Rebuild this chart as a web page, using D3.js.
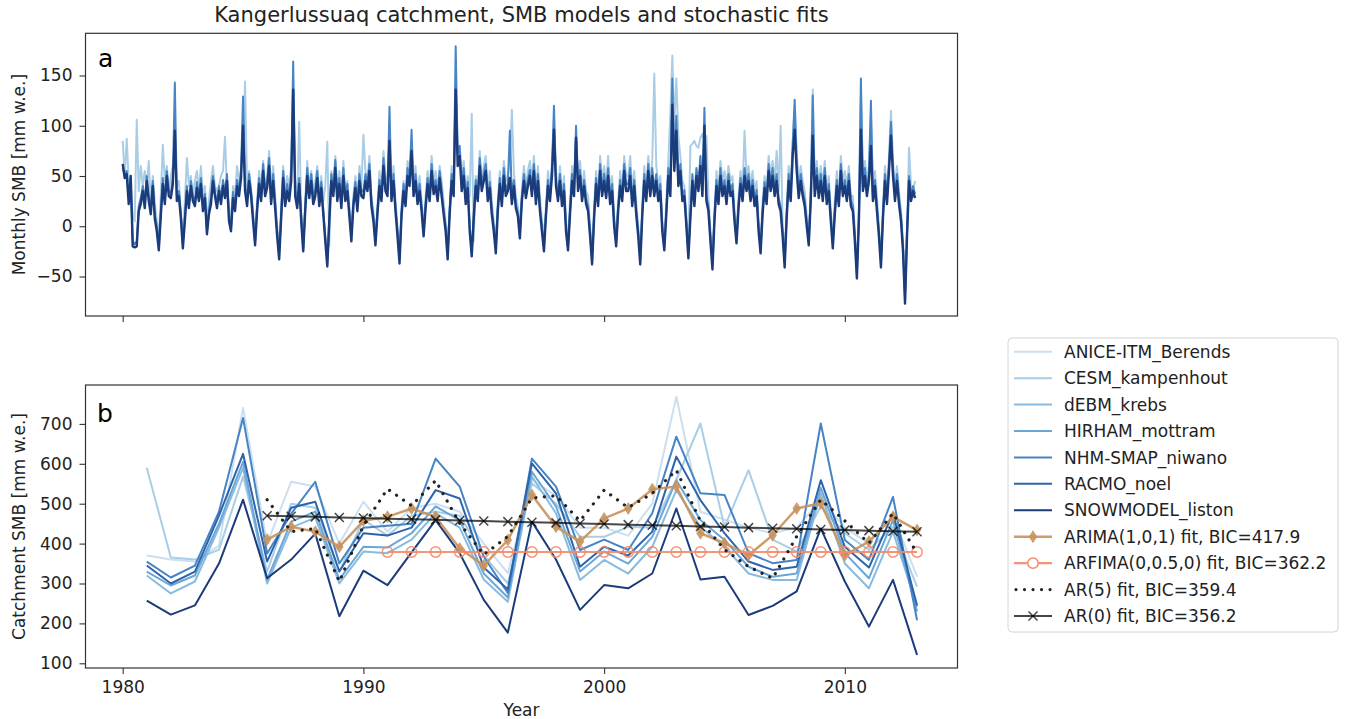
<!DOCTYPE html>
<html><head><meta charset="utf-8">
<script src="https://cdn.jsdelivr.net/npm/d3@7"></script>
<style>
body{margin:0;background:#fff;}
svg text{font-family:"DejaVu Sans",sans-serif;}
</style>
</head><body>
<svg id="c" width="1346" height="719"></svg>
<script>
// ---------------- DATA ----------------
const models = ["ANICE-ITM_Berends","CESM_kampenhout","dEBM_krebs","HIRHAM_mottram","NHM-SMAP_niwano","RACMO_noel","SNOWMODEL_liston"];
const modelColors = ["#cbdff1","#aacde6","#88bbdf","#6aa6d6","#4684c4","#2d63aa","#1b3b7b"];

const annualYears = [1981,1982,1983,1984,1985,1986,1987,1988,1989,1990,1991,1992,1993,1994,1995,1996,1997,1998,1999,2000,2001,2002,2003,2004,2005,2006,2007,2008,2009,2010,2011,2012,2013];
const aniceAnnual  = [370,360,355,395,740,400,555,543,400,505,430,489,500,480,400,326,560,520,440,440,420,500,768,480,460,440,426,440,509,440,400,470,317];
const cesmAnnual   = [590,365,360,385,568,330,500,490,330,460,420,470,480,470,370,300,551,500,417,417,442,440,560,701,442,584,410,380,493,426,384,442,292];
const debmAnnual   = [320,275,305,440,590,300,440,465,300,380,376,410,476,440,310,254,568,476,309,359,325,392,534,442,392,325,309,309,526,350,288,430,242];
const hirhamAnnual = [330,295,320,450,605,310,455,480,310,392,390,426,493,459,325,265,580,493,330,380,350,417,559,459,409,342,317,325,540,376,313,459,230];
const nhmAnnual    = [355,315,345,480,715,375,475,555,350,440,445,450,613,543,367,276,613,543,384,410,384,476,668,526,522,376,351,359,701,409,359,517,208];
const racmoAnnual  = [345,300,330,470,625,355,490,505,330,426,420,440,534,513,340,285,601,526,342,392,370,430,618,509,426,355,334,342,559,392,340,476,245];
const snowAnnual   = [257,222,245,350,510,313,360,425,218,332,296,378,459,376,259,177,455,360,234,296,288,325,488,310,317,221,244,280,438,305,192,309,121];
const annualSeries = [aniceAnnual,cesmAnnual,debmAnnual,hirhamAnnual,nhmAnnual,racmoAnnual,snowAnnual];

const fitYears = [1986,1987,1988,1989,1990,1991,1992,1993,1994,1995,1996,1997,1998,1999,2000,2001,2002,2003,2004,2005,2006,2007,2008,2009,2010,2011,2012,2013];
const arimaFit = [410,442,430,392,457,467,488,467,388,345,409,522,442,405,463,488,536,543,426,401,371,421,488,501,371,405,467,434];
const ar5Fit   = [510,430,438,305,445,537,495,558,451,372,418,514,520,457,534,490,526,584,457,385,342,313,418,510,457,401,476,376];
const ar0Fit   = [470,468.5,467,465.5,464,462.5,461,459.5,458,456.5,455,453.5,452,450.5,449,447.5,446,444.5,443,441.5,440,438.5,437,435.5,434,432.5,431,429.5];
const arfimaYears = [1991,1992,1993,1994,1995,1996,1997,1998,1999,2000,2001,2002,2003,2004,2005,2006,2007,2008,2009,2010,2011,2012,2013];
const arfimaFit   = [379,379,379,379,379,379,379,379,379,379,379,379,379,379,379,379,379,379,379,379,379,379,379];

const fitLabels = ["ARIMA(1,0,1) fit, BIC=417.9","ARFIMA(0,0.5,0) fit, BIC=362.2","AR(5) fit, BIC=359.4","AR(0) fit, BIC=356.2"];

// Monthly SMB (Jan..Dec per year, 1980-2012)
const monthlyStart = 1980;
const monthlyCesm = [
[85,50,87,45,30,12,5,106,35,60,40,55],
[40,65,20,50,25,5,-10,30,81,45,60,35],
[50,60,70,40,45,15,-10,25,68,40,50,30],
[45,55,35,60,30,40,5,25,45,60,40,35],
[40,50,55,89,35,20,5,40,30,60,45,58],
[70,144,40,55,35,15,-10,25,55,35,65,40],
[50,75,35,60,30,0,-20,20,60,35,50,40],
[60,90,45,30,104,15,-15,25,65,40,55,35],
[45,60,30,50,25,40,84,-20,55,40,70,35],
[55,30,65,35,45,20,-5,30,50,25,60,40],
[91,55,45,70,30,15,-10,20,55,35,75,50],
[45,95,35,60,25,0,-25,20,45,30,65,55],
[85,40,60,30,50,25,0,30,55,35,70,45],
[55,35,60,45,25,5,-20,20,60,40,140,75],
[75,50,65,35,50,30,112,-15,50,35,75,45],
[60,70,35,55,25,5,-15,25,55,30,65,45],
[50,65,116,55,30,20,0,35,60,40,55,65],
[45,70,35,60,30,5,-10,20,55,35,65,100],
[55,35,60,30,50,5,-15,25,60,40,90,50],
[65,35,55,35,30,0,-25,20,55,30,70,45],
[60,40,70,35,50,10,-10,25,55,35,70,50],
[50,70,35,55,25,0,-25,20,60,35,70,45],
[65,152,60,40,50,5,-15,25,65,110,170,100],
[147,90,70,45,40,10,-20,80,82,85,80,78],
[88,92,85,90,30,-5,-30,15,55,35,65,45],
[55,40,60,45,50,15,-5,30,55,35,95,50],
[60,40,55,35,45,5,-15,25,50,35,70,50],
[65,45,75,35,100,0,-30,20,60,40,85,120],
[75,45,60,45,35,10,-10,35,136,45,65,40],
[60,40,65,35,50,15,-10,25,55,30,70,45],
[55,40,60,30,30,-5,-40,15,130,50,65,45],
[60,110,40,55,30,0,-30,20,60,35,70,115],
[65,40,60,35,15,-15,-60,0,78,40,35,45]];
const monthlyNhm = [
[58,52,55,28,48,-15,-18,-15,20,28,40,25],
[50,30,18,45,12,0,-20,15,48,28,55,35],
[33,48,143,30,35,12,-18,10,40,22,45,30],
[25,44,30,48,20,32,-5,16,28,50,35,22],
[40,28,46,34,52,10,-2,34,20,46,36,55],
[129,42,26,52,36,10,-15,20,48,30,62,36],
[44,68,28,52,24,-5,-28,12,55,26,42,30],
[52,164,36,24,48,10,-22,20,58,34,52,28],
[36,55,26,44,16,-10,-35,10,52,36,66,30],
[48,24,58,30,42,15,-10,25,44,20,52,36],
[34,52,42,62,26,10,-15,16,46,30,68,42],
[36,119,30,52,20,-5,-32,14,42,26,58,46],
[96,36,52,28,42,20,-5,22,48,30,62,38],
[46,30,55,36,16,0,-28,16,52,36,179,72],
[80,42,58,28,44,0,-26,12,46,30,68,42],
[52,62,30,44,16,0,-22,20,48,25,58,36],
[42,95,28,46,22,14,-8,30,52,34,46,56],
[36,62,28,52,20,0,-20,14,46,30,58,120],
[46,30,52,26,42,0,-20,16,52,36,100,42],
[56,30,46,28,20,-5,-33,12,48,26,62,36],
[52,34,58,28,42,5,-15,20,46,30,62,42],
[42,58,26,46,16,-5,-33,14,52,30,62,36],
[58,36,52,30,42,0,-20,16,58,36,147,62],
[110,46,62,30,36,5,-28,12,52,26,58,42],
[70,36,118,30,20,-10,-38,10,46,28,58,36],
[46,28,52,36,42,10,-12,22,48,30,58,42],
[52,30,46,26,36,0,-22,16,44,28,62,42],
[58,36,52,28,20,-5,-36,12,52,30,80,126],
[62,34,52,36,26,5,-15,30,130,36,58,34],
[52,30,58,28,42,10,-18,16,46,26,62,36],
[46,30,52,26,20,-10,-47,10,147,42,58,36],
[52,125,30,46,20,-5,-36,12,52,28,62,104],
[58,30,52,28,10,-20,-72,-5,50,30,40,32]];
const monthlySnow = [
[62,48,52,22,50,-20,-21,-20,15,22,35,18],
[45,25,12,40,8,-5,-24,10,42,22,50,30],
[28,42,95,25,30,8,-22,5,35,18,40,25],
[20,38,25,42,15,28,-8,12,22,45,30,18],
[35,22,40,28,45,5,-5,28,15,40,30,48],
[100,35,20,45,30,5,-19,15,42,25,55,30],
[38,60,22,45,18,-10,-33,8,48,20,35,25],
[45,136,30,18,42,5,-25,15,50,28,45,22],
[30,48,20,38,12,-15,-40,5,45,30,58,25],
[42,18,50,25,35,10,-15,20,38,15,45,30],
[28,45,35,55,20,5,-19,12,40,25,60,35],
[30,85,25,45,15,-10,-37,10,35,20,50,40],
[75,30,45,22,35,15,-10,18,42,25,55,32],
[40,25,48,30,12,-5,-33,12,45,30,136,60],
[70,35,50,22,38,-5,-30,8,40,25,60,35],
[45,55,25,38,12,-5,-27,15,42,20,50,30],
[35,48,22,40,18,10,-12,25,45,28,40,50],
[30,55,22,45,15,-5,-25,10,40,25,50,96],
[40,25,45,20,35,-5,-24,12,45,30,88,35],
[50,25,40,22,15,-10,-38,8,42,20,55,30],
[45,28,50,22,35,0,-20,15,40,25,55,35],
[35,50,20,40,12,-10,-38,10,45,25,55,30],
[50,30,45,25,35,-5,-24,12,50,30,121,55],
[95,40,55,25,30,0,-32,8,45,20,50,35],
[60,30,100,25,15,-15,-43,5,40,22,50,30],
[40,22,45,30,35,5,-17,18,42,25,50,35],
[45,25,40,20,30,-5,-27,12,38,22,55,35],
[50,30,45,22,15,-10,-41,8,45,25,70,96],
[55,28,45,30,20,0,-19,25,90,30,50,28],
[45,25,50,22,35,5,-22,12,40,20,55,30],
[40,25,45,20,15,-15,-52,5,96,35,50,30],
[45,80,25,40,15,-10,-41,8,45,22,55,90],
[50,25,45,22,5,-25,-77,-10,45,25,35,28]];
const monthlySeries = [
  {values: monthlyCesm, color: modelColors[1], width: 2},
  {values: monthlyNhm, color: modelColors[4], width: 2},
  {values: monthlySnow, color: modelColors[6], width: 2.4}
];

const xTicks = [1980,1990,2000,2010];
const yTicksTop = [-50,0,50,100,150];
const yTicksBottom = [100,200,300,400,500,600,700];

// ---------------- LAYOUT ----------------
const svg = d3.select("#c");
const X0 = 85.5, X1 = 957.5;
const top0 = 33.3, top1 = 316;
const bot0 = 385, bot1 = 668;
const x = d3.scaleLinear().domain([1978.455, 2014.68]).range([X0, X1]);
const yTop = d3.scaleLinear().domain([-89.3, 192]).range([top1, top0]);
const yBot = d3.scaleLinear().domain([88.2, 797.5]).range([bot1, bot0]);
const textColor = "#222";
const fmt = d => d < 0 ? "\u2212" + Math.abs(d) : String(d);

const defs = svg.append("defs");
defs.append("clipPath").attr("id","clipTop").append("rect").attr("x",X0).attr("y",top0).attr("width",X1-X0).attr("height",top1-top0);
defs.append("clipPath").attr("id","clipBot").append("rect").attr("x",X0).attr("y",bot0).attr("width",X1-X0).attr("height",bot1-bot0);

function styleAxis(g){
  g.select(".domain").remove();
  g.selectAll(".tick line").attr("stroke","#333").attr("stroke-width",1.1);
  g.selectAll(".tick text").attr("fill",textColor).style("font-size","17px").style("font-family","DejaVu Sans");
}

// Title
svg.append("text").attr("x",(X0+X1)/2).attr("y",22).attr("text-anchor","middle")
  .attr("fill",textColor).style("font-size","21px").text("Kangerlussuaq catchment, SMB models and stochastic fits");

// ---------- Top panel ----------
const gTop = svg.append("g").attr("clip-path","url(#clipTop)");
const lineTop = d3.line().x(d => x(d[0])).y(d => yTop(d[1]));
monthlySeries.forEach(s => {
  const pts = [];
  s.values.forEach((yr, i) => yr.forEach((v, m) => pts.push([monthlyStart + i + m/12, v])));
  gTop.append("path").datum(pts).attr("d", lineTop).attr("fill","none")
    .attr("stroke", s.color).attr("stroke-width", s.width).attr("stroke-linejoin","round");
});
svg.append("g").attr("transform",`translate(0,${top1})`)
  .call(d3.axisBottom(x).tickValues(xTicks).tickSize(6).tickFormat("")).call(styleAxis);
svg.append("g").attr("transform",`translate(${X0},0)`)
  .call(d3.axisLeft(yTop).tickValues(yTicksTop).tickSize(6).tickPadding(7).tickFormat(fmt)).call(styleAxis);
svg.append("rect").attr("x",X0).attr("y",top0).attr("width",X1-X0).attr("height",top1-top0)
  .attr("fill","none").attr("stroke","#333").attr("stroke-width",1.2);
svg.append("text").attr("x",98).attr("y",67).attr("fill","#000").style("font-size","25px").text("a");
svg.append("text").attr("transform",`translate(24.5,${(top0+top1)/2}) rotate(-90)`).attr("text-anchor","middle")
  .attr("fill",textColor).style("font-size","17px").text("Monthly SMB [mm w.e.]");

// ---------- Bottom panel ----------
const gBot = svg.append("g").attr("clip-path","url(#clipBot)");
const lineBot = d3.line().x(d => x(d[0])).y(d => yBot(d[1]));
annualSeries.forEach((vals, i) => {
  gBot.append("path").datum(annualYears.map((yy,k)=>[yy, vals[k]])).attr("d", lineBot)
    .attr("fill","none").attr("stroke", modelColors[i]).attr("stroke-width",2).attr("stroke-linejoin","round");
});
const arimaColor = "#c8925b", arfimaColor = "#f28a6b";
const diamond = "M0,-6.5L4.2,0L0,6.5L-4.2,0Z";
const xMark = "M-4.5,-4.5L4.5,4.5M-4.5,4.5L4.5,-4.5";
// ARIMA
const arimaPts = fitYears.map((yy,k)=>[yy, arimaFit[k]]);
gBot.append("path").datum(arimaPts).attr("d", lineBot).attr("fill","none")
  .attr("stroke", arimaColor).attr("stroke-width",2.5).attr("opacity",0.9);
gBot.selectAll(".dia").data(arimaPts).enter().append("path").attr("d", diamond)
  .attr("transform", d => `translate(${x(d[0])},${yBot(d[1])})`).attr("fill", arimaColor).attr("opacity",0.9);
// ARFIMA
const arfimaPts = arfimaYears.map((yy,k)=>[yy, arfimaFit[k]]);
gBot.append("path").datum(arfimaPts).attr("d", lineBot).attr("fill","none")
  .attr("stroke", arfimaColor).attr("stroke-width",2.2).attr("opacity",0.9);
gBot.selectAll(".circ").data(arfimaPts).enter().append("circle")
  .attr("cx", d => x(d[0])).attr("cy", d => yBot(d[1])).attr("r",5.2)
  .attr("fill","none").attr("stroke", arfimaColor).attr("stroke-width",1.5).attr("opacity",0.9);
// AR(5)
gBot.append("path").datum(fitYears.map((yy,k)=>[yy, ar5Fit[k]])).attr("d", lineBot).attr("fill","none")
  .attr("stroke","#222").attr("stroke-width",3.2).attr("stroke-dasharray","0.01 8.5").attr("stroke-linecap","round");
// AR(0)
const ar0Pts = fitYears.map((yy,k)=>[yy, ar0Fit[k]]);
gBot.append("path").datum(ar0Pts).attr("d", lineBot).attr("fill","none")
  .attr("stroke","#000").attr("stroke-width",2).attr("opacity",0.72);
gBot.selectAll(".xm").data(ar0Pts).enter().append("path").attr("d", xMark)
  .attr("transform", d => `translate(${x(d[0])},${yBot(d[1])})`).attr("stroke","#000").attr("stroke-width",1.5).attr("opacity",0.72);

svg.append("g").attr("transform",`translate(0,${bot1})`)
  .call(d3.axisBottom(x).tickValues(xTicks).tickSize(6).tickPadding(7).tickFormat(d3.format("d"))).call(styleAxis);
svg.append("g").attr("transform",`translate(${X0},0)`)
  .call(d3.axisLeft(yBot).tickValues(yTicksBottom).tickSize(6).tickPadding(7).tickFormat(fmt)).call(styleAxis);
svg.append("rect").attr("x",X0).attr("y",bot0).attr("width",X1-X0).attr("height",bot1-bot0)
  .attr("fill","none").attr("stroke","#333").attr("stroke-width",1.2);
svg.append("text").attr("x",97).attr("y",421.5).attr("fill","#000").style("font-size","25px").text("b");
svg.append("text").attr("transform",`translate(24.5,${(bot0+bot1)/2}) rotate(-90)`).attr("text-anchor","middle")
  .attr("fill",textColor).style("font-size","17px").text("Catchment SMB [mm w.e.]");
svg.append("text").attr("x",(X0+X1)/2).attr("y",716).attr("text-anchor","middle")
  .attr("fill",textColor).style("font-size","17px").text("Year");

// ---------- Legend ----------
const lg = svg.append("g");
lg.append("rect").attr("x",1008).attr("y",338).attr("width",330).attr("height",294).attr("rx",4)
  .attr("fill","#fff").attr("stroke","#d4d4d4").attr("stroke-width",1);
const entries = models.map((m,i)=>({label:m, type:"model", color:modelColors[i]}))
  .concat([{label:fitLabels[0],type:"arima"},{label:fitLabels[1],type:"arfima"},{label:fitLabels[2],type:"ar5"},{label:fitLabels[3],type:"ar0"}]);
entries.forEach((e,i) => {
  const cy = 351.7 + i*26.43, sx0 = 1014, sx1 = 1052, cx = 1033;
  const ln = lg.append("line").attr("x1",sx0).attr("x2",sx1).attr("y1",cy).attr("y2",cy);
  if (e.type === "model") ln.attr("stroke", e.color).attr("stroke-width",2);
  if (e.type === "arima") {
    ln.attr("stroke", arimaColor).attr("stroke-width",2.5).attr("opacity",0.9);
    lg.append("path").attr("d",diamond).attr("transform",`translate(${cx},${cy})`).attr("fill",arimaColor).attr("opacity",0.9);
  }
  if (e.type === "arfima") {
    ln.attr("stroke", arfimaColor).attr("stroke-width",2.2).attr("opacity",0.9);
    lg.append("circle").attr("cx",cx).attr("cy",cy).attr("r",5.2).attr("fill","#fff").attr("stroke",arfimaColor).attr("stroke-width",1.5);
  }
  if (e.type === "ar5") ln.attr("stroke","#222").attr("stroke-width",3.2).attr("stroke-dasharray","0.01 8.5").attr("stroke-linecap","round").attr("x1",sx0+2);
  if (e.type === "ar0") {
    ln.attr("stroke","#000").attr("stroke-width",2).attr("opacity",0.72);
    lg.append("path").attr("d",xMark).attr("transform",`translate(${cx},${cy})`).attr("stroke","#000").attr("stroke-width",1.5).attr("opacity",0.72);
  }
  lg.append("text").attr("x",1064).attr("y",cy).attr("dy","0.36em").attr("fill",textColor).style("font-size","17px").text(e.label);
});
</script>
</body></html>
